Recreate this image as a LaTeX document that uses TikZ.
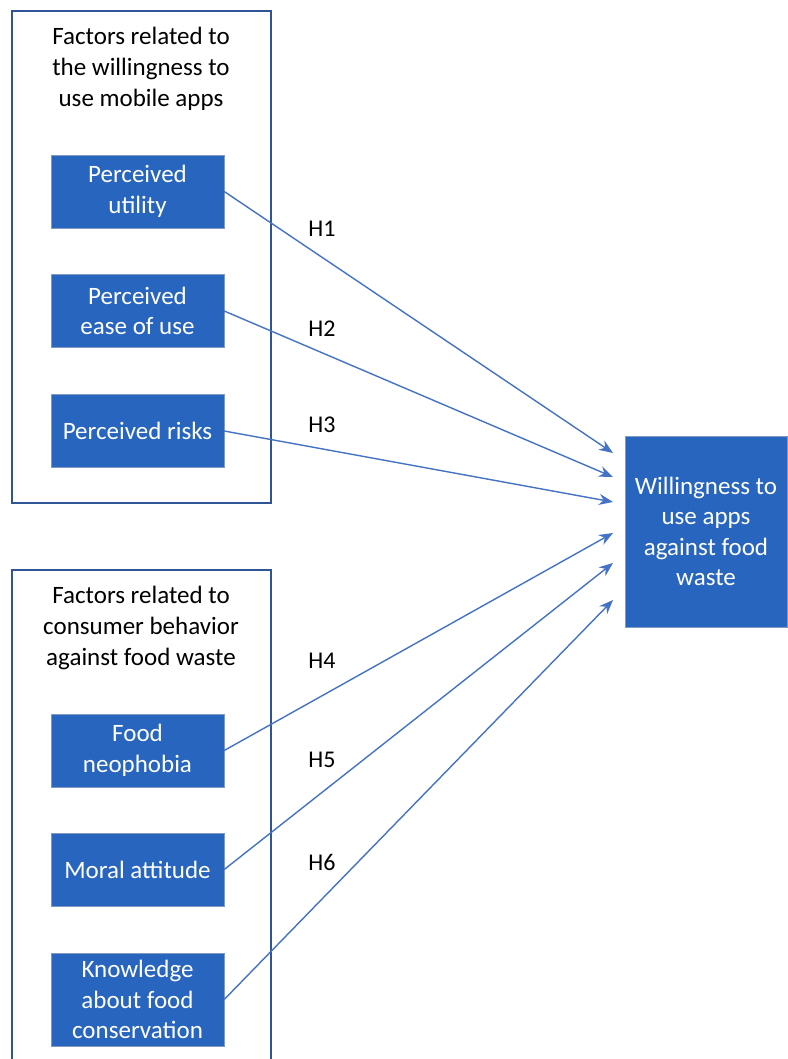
\documentclass[tikz,border=0pt]{standalone}
\usepackage{fontspec}
\setmainfont{Carlito}
\usetikzlibrary{arrows.meta}
\definecolor{boxblue}{RGB}{40,101,190}
\definecolor{edgeblue}{RGB}{47,85,151}
\definecolor{arrowblue}{RGB}{68,114,196}
\begin{document}
\begin{tikzpicture}[
    x=1pt, y=1pt,
    factor/.style={draw=edgeblue!60, fill=boxblue, text=white, align=center,
                   minimum width=173pt, minimum height=73pt, inner sep=0pt,
                   font=\fontsize{25}{30.5}\selectfont},
    group/.style={draw=edgeblue, line width=1.8pt},
    head/.style={align=center, font=\fontsize{25}{31}\selectfont},
    hyp/.style={font=\fontsize{24}{28}\selectfont},
    link/.style={draw=arrowblue, line width=1.4pt,
                 -{Stealth[length=14pt, width=11pt]}}]
  \useasboundingbox (0,0) rectangle (787,-1059);
  % the two groups of factors
  \draw[group] (12,-11) rectangle (271,-503);
  \draw[group] (12,-1059) |- (271,-570) -- (271,-1059);
  \node[head] (apphead) at (141,-69) {Factors related to\\the willingness to\\use mobile apps};
  \node[head] (foodhead) at (141,-628) {Factors related to\\consumer behavior\\against food waste};
  % factors
  \node[factor] (util) at (137.5,-191.5) {Perceived\\utility};
  \node[factor] (ease) at (137.5,-311) {Perceived\\ease of use};
  \node[factor] (risk) at (137.5,-431) {Perceived risks};
  \node[factor] (neo) at (137.5,-750.5) {Food\\neophobia};
  \node[factor] (moral) at (137.5,-869.5) {Moral attitude};
  \node[factor, minimum height=93pt] (know) at (137.5,-999.5) {Knowledge\\about food\\conservation};
  % outcome
  \node[factor, minimum width=162pt, minimum height=191pt] (will) at (706,-531.5)
    {Willingness to\\use apps\\against food\\waste};
  \coordinate (t1) at (613,-453);
  \coordinate (t2) at (613,-477);
  \coordinate (t3) at (613,-502);
  \coordinate (t4) at (613,-533);
  \coordinate (t5) at (613,-563);
  \coordinate (t6) at (613,-600);
  % hypotheses
  \draw[link] (util.east) -- (t1);
  \draw[link] (ease.east) -- (t2);
  \draw[link] (risk.east) -- (t3);
  \draw[link] (neo.east) -- (t4);
  \draw[link] (moral.east) -- (t5);
  \draw[link] (know.east) -- (t6);
  \node[hyp] (h1) at (322,-229) {H1};
  \node[hyp] (h2) at (322,-329) {H2};
  \node[hyp] (h3) at (322,-425) {H3};
  \node[hyp] (h4) at (322,-661) {H4};
  \node[hyp] (h5) at (322,-760) {H5};
  \node[hyp] (h6) at (322,-862) {H6};
\end{tikzpicture}
\end{document}
